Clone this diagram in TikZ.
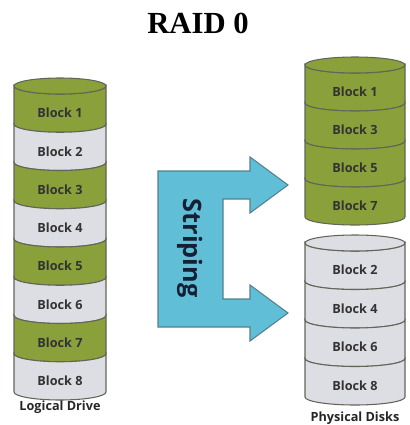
\documentclass[tikz,border=0pt]{standalone}
\usepackage{fontspec}
\setmainfont{Liberation Serif}
\newfontfamily\diskfont{Open Sans}
\usepackage{tikz}
\definecolor{diskgreen}{RGB}{138,160,58}
\definecolor{diskgray}{RGB}{221,222,227}
\definecolor{diskedge}{RGB}{98,102,88}
\definecolor{stripeblue}{RGB}{96,190,214}
\definecolor{stripeedge}{RGB}{84,128,146}
\definecolor{stripetext}{RGB}{22,32,52}
\tikzset{
  pics/band/.default={38},
  pics/band/.style = {
    code = {
    \draw[pic actions] (-\rx,0) arc[start angle=180,end angle=360,x radius=\rx,y radius=8]
      -- (\rx,-#1) arc[start angle=360,end angle=180,x radius=\rx,y radius=8] -- cycle;
    }
  },
  blocklabel/.style={font=\diskfont\bfseries\fontsize{9.5}{11}\selectfont, text=black!80},
  caption/.style={font=\diskfont\bfseries\fontsize{9.5}{11}\selectfont, text=black!85}
}

\begin{document}
\begin{tikzpicture}[x=0.75pt,y=0.75pt,line width=0.8pt]
\useasboundingbox (0,0) rectangle (410,-425);

\node[font=\bfseries\fontsize{23}{26}\selectfont] (title) at (198,-23) {RAID 0};

% logical drive
\def\rx{46}
\foreach \i/\c in {1/diskgreen,2/diskgray,3/diskgreen,4/diskgray,5/diskgreen,6/diskgray,7/diskgreen,8/diskgray}{
  \pic[fill=\c, draw=diskedge] at (60,{-86-38.25*(\i-1)}) {band=38.25};
  \node[blocklabel] (L\i) at (60,{-86-38.25*(\i-1)-27}) {Block \i};
}
\draw[fill=diskgreen, draw=diskedge] (60,-86) ellipse[x radius=46, y radius=8];
\node[caption] (logical) at (60,-407) {Logical Drive};

% physical disks
\def\rx{50}
\foreach \i/\b in {1/1,2/3,3/5,4/7}{
  \pic[fill=diskgreen, draw=diskedge] at (355,{-65-38*(\i-1)}) {band=38};
  \node[blocklabel] (A\i) at (355,{-65-38*(\i-1)-27}) {Block \b};
}
\draw[fill=diskgreen, draw=diskedge] (355,-65) ellipse[x radius=50, y radius=8];

\foreach \i/\b in {1/2,2/4,3/6,4/8}{
  \pic[fill=diskgray, draw=diskedge] at (355,{-243-38.5*(\i-1)}) {band=38.5};
  \node[blocklabel] (B\i) at (355,{-243-38.5*(\i-1)-27}) {Block \b};
}
\draw[fill=diskgray, draw=diskedge] (355,-243) ellipse[x radius=50, y radius=8];
\node[caption] (physical) at (355,-418) {Physical Disks};

% striping arrow
\draw[fill=stripeblue, draw=stripeedge] (158,-171) -- (250,-171) -- (250,-157) -- (288,-185)
  -- (250,-213) -- (250,-199) -- (223,-199) -- (223,-299) -- (250,-299) -- (250,-285)
  -- (288,-313) -- (250,-341) -- (250,-327) -- (158,-327) -- cycle;
\node[rotate=-90, font=\diskfont\bfseries\fontsize{19}{22}\selectfont, text=stripetext] (striping) at (190,-248) {Striping};

\end{tikzpicture}
\end{document}
